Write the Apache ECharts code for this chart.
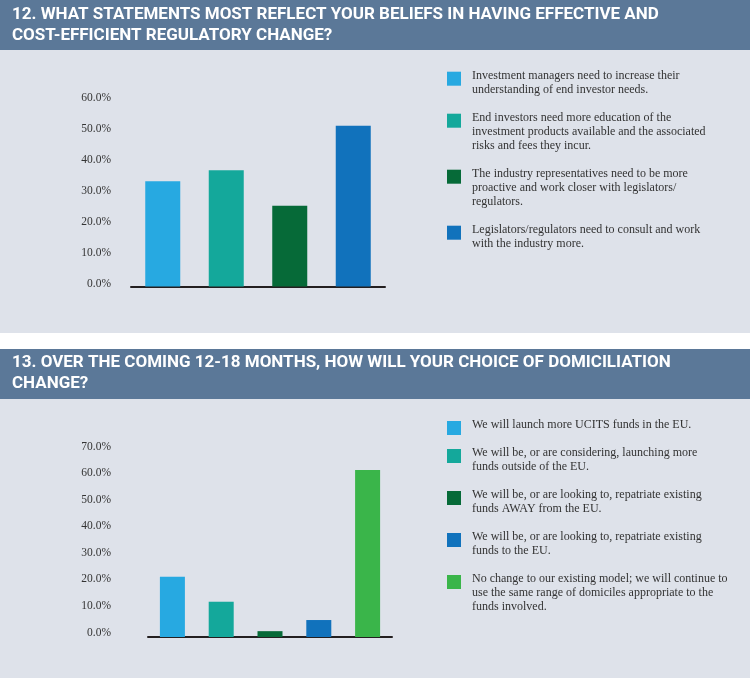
<!DOCTYPE html>
<html>
<head>
<meta charset="utf-8">
<script src="https://cdn.jsdelivr.net/npm/echarts@6/dist/echarts.min.js"></script>
<style>
  html, body { margin: 0; padding: 0; background: #fff; }
  #chart { width: 750px; height: 678px; }
</style>
</head>
<body>
<div id="chart"></div>
<script>
// Q12 data
var q12Title = '12. WHAT STATEMENTS MOST REFLECT YOUR BELIEFS IN HAVING EFFECTIVE AND\nCOST-EFFICIENT REGULATORY CHANGE?'
var q12Labels = [
  'Investment managers need to increase their\nunderstanding of end investor needs.',
  'End investors need more education of the\ninvestment products available and the associated\nrisks and fees they incur.',
  'The industry representatives need to be more\nproactive and work closer with legislators/\nregulators.',
  'Legislators/regulators need to consult and work\nwith the industry more.'
]
var q12Values = [33.9, 37.4, 26.0, 51.7]
var q12Ticks = [0, 10, 20, 30, 40, 50, 60]

// Q13 data
var q13Title = '13. OVER THE COMING 12-18 MONTHS, HOW WILL YOUR CHOICE OF DOMICILIATION\nCHANGE?'
var q13Labels = [
  'We will launch more UCITS funds in the EU.',
  'We will be, or are considering, launching more\nfunds outside of the EU.',
  'We will be, or are looking to, repatriate existing\nfunds AWAY from the EU.',
  'We will be, or are looking to, repatriate existing\nfunds to the EU.',
  'No change to our existing model; we will continue to\nuse the same range of domiciles appropriate to the\nfunds involved.'
]
var q13Values = [22.7, 13.3, 2.2, 6.4, 63.0]
var q13Ticks = [0, 10, 20, 30, 40, 50, 60, 70]

var colors = ['#27a9e1', '#14a89b', '#066a38', '#1172bc', '#3ab54a']
var panelBg = '#dee2ea'
var headBg = '#5b7898'
var serif = "'Liberation Serif', 'DejaVu Serif', serif"
var headFont = "Roboto, 'Liberation Sans', sans-serif"

function legendGraphics(labels, x, top) {
  var els = []
  var y = top
  labels.forEach(function (txt, i) {
    var lines = txt.split('\n').length
    els.push({
      type: 'rect', left: x, top: y,
      shape: { width: 14, height: 14 },
      style: { fill: colors[i] }
    })
    els.push({
      type: 'text', left: x + 25, top: y - 3,
      style: { text: txt, font: '12px ' + serif, fill: '#333', lineHeight: 14 }
    })
    y += lines * 14 + 14
  })
  return els
}

function barData(values) {
  return values.map(function (v, i) {
    return { value: v, itemStyle: { color: colors[i] } }
  })
}

function pct(v) { return v.toFixed(1) + '%' }

var chart = echarts.init(document.getElementById('chart'))
chart.setOption({
  animation: false,
  backgroundColor: '#fff',
  graphic: [
    { type: 'rect', left: 0, top: 0, shape: { width: 750, height: 50 }, style: { fill: headBg } },
    { type: 'rect', left: 0, top: 50, shape: { width: 750, height: 283 }, style: { fill: panelBg } },
    { type: 'rect', left: 0, top: 349, shape: { width: 750, height: 50 }, style: { fill: headBg } },
    { type: 'rect', left: 0, top: 399, shape: { width: 750, height: 279 }, style: { fill: panelBg } },
    { type: 'text', left: 12, top: 4, style: { text: q12Title, font: 'bold 17px ' + headFont, fill: '#fff', lineHeight: 21 } },
    { type: 'text', left: 12, top: 352, style: { text: q13Title, font: 'bold 17px ' + headFont, fill: '#fff', lineHeight: 21 } }
  ].concat(legendGraphics(q12Labels, 447, 71.7), legendGraphics(q13Labels, 447, 421)),
  grid: [
    { left: 131, width: 254, top: 100, height: 186.5 },
    { left: 148, width: 244, top: 451.4, height: 185.6 }
  ],
  xAxis: [0, 1].map(function (g) {
    return {
      type: 'category', gridIndex: g,
      data: (g === 0 ? q12Labels : q13Labels),
      axisLine: { lineStyle: { color: '#231f20', width: 2 } },
      axisTick: { show: false },
      axisLabel: { show: false }
    }
  }),
  yAxis: [
    { type: 'value', gridIndex: 0, min: q12Ticks[0], max: q12Ticks[q12Ticks.length - 1], interval: 10,
      splitLine: { show: false }, axisLine: { show: false }, axisTick: { show: false },
      axisLabel: { formatter: pct, margin: 20, color: '#333', fontSize: 11.5, fontFamily: serif,
        verticalAlign: 'bottom', lineHeight: 5 } },
    { type: 'value', gridIndex: 1, min: q13Ticks[0], max: q13Ticks[q13Ticks.length - 1], interval: 10,
      splitLine: { show: false }, axisLine: { show: false }, axisTick: { show: false },
      axisLabel: { formatter: pct, margin: 37, color: '#333', fontSize: 11.5, fontFamily: serif,
        verticalAlign: 'bottom', lineHeight: 9 } }
  ],
  series: [
    { type: 'bar', xAxisIndex: 0, yAxisIndex: 0, barWidth: 35, data: barData(q12Values) },
    { type: 'bar', xAxisIndex: 1, yAxisIndex: 1, barWidth: 25, data: barData(q13Values) }
  ]
})
</script>
</body>
</html>
